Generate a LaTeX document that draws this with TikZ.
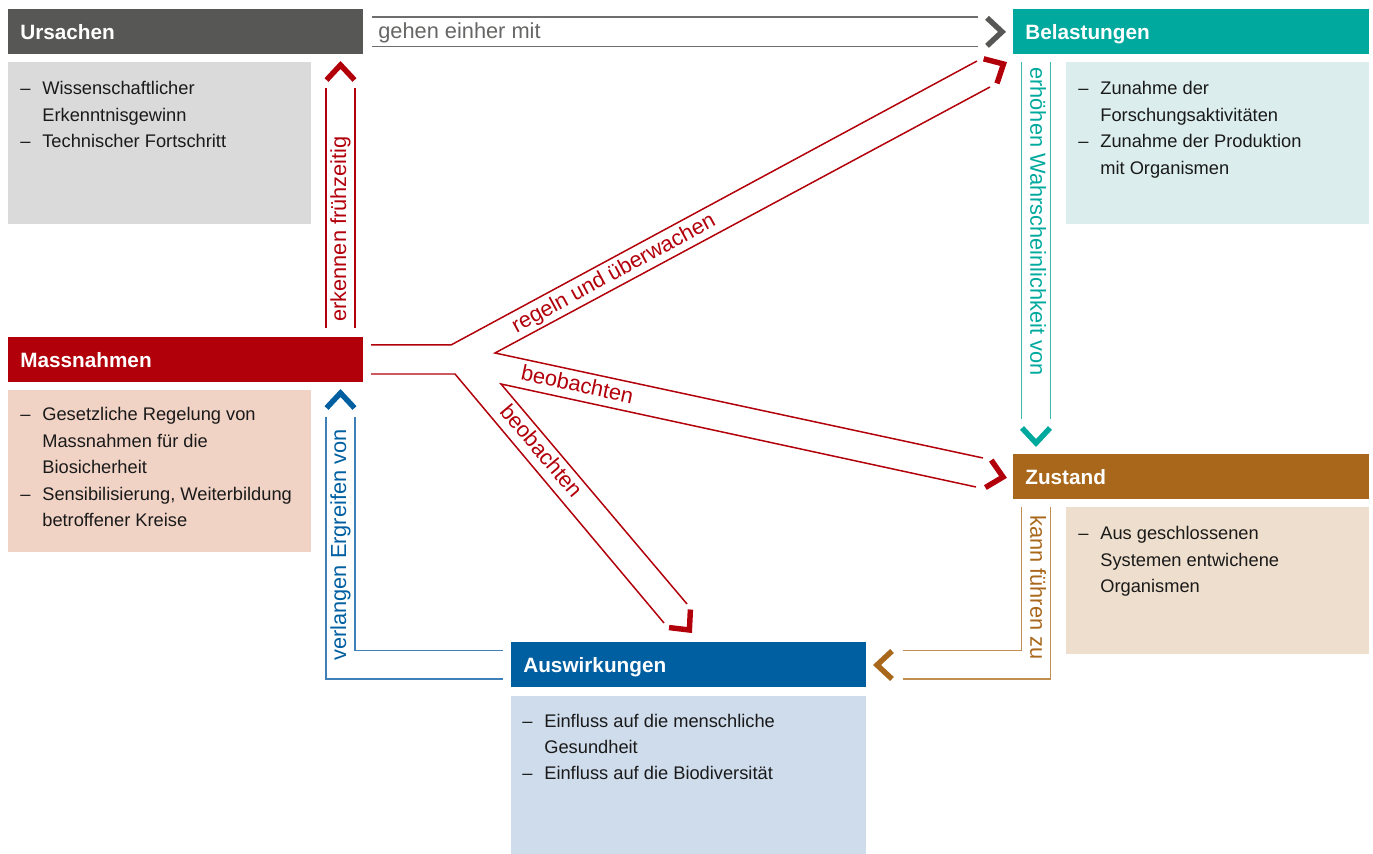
\documentclass[tikz,border=0pt]{standalone}
\usepackage{fontspec}
\setmainfont{Liberation Sans}
\usetikzlibrary{calc}
\definecolor{ugray}{HTML}{575756}
\definecolor{ugrayL}{HTML}{DADADA}
\definecolor{gline}{HTML}{6E6E6D}
\definecolor{glabel}{HTML}{666665}
\definecolor{teal1}{HTML}{00A99D}
\definecolor{tealL}{HTML}{DBEEED}
\definecolor{tline}{HTML}{3DB8AF}
\definecolor{red1}{HTML}{B2000B}
\definecolor{redL}{HTML}{F1D3C6}
\definecolor{brown1}{HTML}{A8671A}
\definecolor{brownL}{HTML}{EEDECD}
\definecolor{bline}{HTML}{C08F50}
\definecolor{blue1}{HTML}{005FA1}
\definecolor{blueL}{HTML}{CFDCEC}
\definecolor{blline}{HTML}{3F80B8}
\definecolor{txt}{HTML}{1A1A1A}
\newcommand\dgHdr{\fontsize{11.8}{13}\selectfont\bfseries}
\newcommand\dgBody{\fontsize{10.4}{15}\selectfont}
\newcommand\dgLbl{\fontsize{12.4}{14}\selectfont}
\newcommand\dgList[1]{\begin{tabular}[t]{@{}p{0.44cm}@{}l@{}}#1\end{tabular}}
\begin{document}
\begin{tikzpicture}[x=0.02cm,y=-0.02cm,
  hdr/.style={anchor=north west, minimum height=0.9cm, text width=6.62cm, inner xsep=0.24cm, inner ysep=0pt, align=left, text=white, font=\dgHdr, text height=8.4pt, text depth=0pt},
  bodybox/.style={anchor=north west, inner sep=0pt, minimum width=6.06cm, minimum height=3.24cm},
  items/.style={anchor=base west, inner sep=0pt, font=\dgBody, text=txt},
  lbl/.style={inner sep=0pt, font=\dgLbl, text height=9.1pt, text depth=2.6pt},
  band/.style={line width=0.85pt},
  pics/chev/.style={code={\draw[line width=3.1pt, line join=miter, line cap=butt, #1] (-15,-14) -- (0,0) -- (-15,14);}}
]
\useasboundingbox (0,0) rectangle (1373,854);

% ---------- boxes ----------
\node[hdr, fill=ugray] (ursH) at (8,9) {Ursachen};
\node[bodybox, fill=ugrayL] (ursB) at (8,62) {};
\node[items] (ursT) at (20,95) {\dgList{–&Wissenschaftlicher\\&Erkenntnisgewinn\\–&Technischer Fortschritt}};

\node[hdr, fill=teal1, text width=6.64cm] (belH) at (1013,9) {Belastungen};
\node[bodybox, fill=tealL] (belB) at (1066,62) {};
\node[items] (belT) at (1078,95) {\dgList{–&Zunahme der\\&Forschungsaktivitäten\\–&Zunahme der Produktion\\&mit Organismen}};

\node[hdr, fill=red1] (masH) at (8,337) {Massnahmen};
\node[bodybox, fill=redL] (masB) at (8,390) {};
\node[items] (masT) at (20,421) {\dgList{–&Gesetzliche Regelung von\\&Massnahmen für die\\&Biosicherheit\\–&Sensibilisierung, Weiterbildung\\&betroffener Kreise}};

\node[hdr, fill=brown1, text width=6.64cm] (zusH) at (1013,454) {Zustand};
\node[bodybox, fill=brownL, minimum height=2.94cm] (zusB) at (1066,507) {};
\node[items] (zusT) at (1078,540) {\dgList{–&Aus geschlossenen\\&Systemen entwichene\\&Organismen}};

\node[hdr, fill=blue1] (ausH) at (511,642) {Auswirkungen};
\node[bodybox, fill=blueL, minimum width=7.1cm, minimum height=3.16cm] (ausB) at (511,696) {};
\node[items] (ausT) at (522,727) {\dgList{–&Einfluss auf die menschliche\\&Gesundheit\\–&Einfluss auf die Biodiversität}};

% ---------- Ursachen -> Belastungen (gray) ----------
\coordinate (g1a) at ($(ursH.north east)+(8,8)$);
\coordinate (g1b) at ($(belH.north west)+(-35,8)$);
\coordinate (g2a) at ($(ursH.south east)+(8,-8)$);
\coordinate (g2b) at ($(belH.south west)+(-35,-8)$);
\draw[band, gline] (g1a) -- (g1b);
\draw[band, gline] (g2a) -- (g2b);
\pic at ($(belH.west)+(-11,0)$) {chev=ugray};
\node[lbl, text=glabel, anchor=west] (lblG) at (378,32.5) {gehen einher mit};

% ---------- Massnahmen -> Ursachen (red, up) ----------
\coordinate (r1a) at (326,328); \coordinate (r1b) at (326,88);
\coordinate (r2a) at (355,328); \coordinate (r2b) at (355,88);
\draw[band, red1] (r1a) -- (r1b);
\draw[band, red1] (r2a) -- (r2b);
\pic[rotate=90] at (340.5,65) {chev=red1};
\node[lbl, text=red1, rotate=90, anchor=west] (lblR) at (340.5,322) {erkennen frühzeitig};

% ---------- Auswirkungen -> Massnahmen (blue) ----------
\coordinate (b1a) at (503,679); \coordinate (b1m) at (326,679); \coordinate (b1b) at (326,417);
\coordinate (b2a) at (503,650.7); \coordinate (b2m) at (355,650.7); \coordinate (b2b) at (355,417);
\draw[band, blline] (b1a) -- (b1m) -- (b1b);
\draw[band, blline] (b2a) -- (b2m) -- (b2b);
\pic[rotate=90] at (340.5,393) {chev=blue1};
\node[lbl, text=blue1, rotate=90, anchor=west] (lblB) at (340.5,661) {verlangen Ergreifen von};

% ---------- Belastungen -> Zustand (teal) ----------
\coordinate (t1a) at (1021.5,62); \coordinate (t1b) at (1021.5,419);
\coordinate (t2a) at (1050.5,62); \coordinate (t2b) at (1050.5,419);
\draw[band, tline] (t1a) -- (t1b);
\draw[band, tline] (t2a) -- (t2b);
\pic[rotate=-90] at (1036,443) {chev=teal1};
\node[lbl, text=teal1, rotate=-90, anchor=west] (lblT) at (1036,67) {erhöhen Wahrscheinlichkeit von};

% ---------- Zustand -> Auswirkungen (brown) ----------
\coordinate (z1a) at (1021.5,507); \coordinate (z1m) at (1021.5,650.7); \coordinate (z1b) at (903,650.7);
\coordinate (z2a) at (1050.5,507); \coordinate (z2m) at (1050.5,679); \coordinate (z2b) at (903,679);
\draw[band, bline] (z1a) -- (z1m) -- (z1b);
\draw[band, bline] (z2a) -- (z2m) -- (z2b);
\pic[rotate=180] at (877,665) {chev=brown1};
\node[lbl, text=brown1, rotate=-90, anchor=west] (lblZ) at (1036,515) {kann führen zu};

% ---------- Massnahmen fork (red) ----------
\coordinate (fA0) at (371,345); \coordinate (fA1) at (451,345); \coordinate (fA2) at (977,61);
\coordinate (fB0) at (371,374); \coordinate (fB1) at (455,374); \coordinate (fB2) at (664,623);
\coordinate (fC0) at (990,87);  \coordinate (fC1) at (495,353); \coordinate (fC2) at (983,458);
\coordinate (fD0) at (976,487); \coordinate (fD1) at (501,384); \coordinate (fD2) at (687,604);
\draw[band, red1] (fA0) -- (fA1) -- (fA2);
\draw[band, red1] (fB0) -- (fB1) -- (fB2);
\draw[band, red1] (fC0) -- (fC1) -- (fC2);
\draw[band, red1] (fD0) -- (fD1) -- (fD2);
\pic[rotate=28.4] at (1003.5,64) {chev=red1};
\pic[rotate=-12.2] at (1003,477) {chev=red1};
\pic[rotate=-49.8] at (689.4,630) {chev=red1};
\node[lbl, text=red1, rotate=28.4] (lblF1) at (614,274) {regeln und überwachen};
\node[lbl, text=red1, rotate=-12.2] (lblF2) at (577,386) {beobachten};
\node[lbl, text=red1, rotate=-49.8] (lblF3) at (540,452) {beobachten};
\end{tikzpicture}
\end{document}
